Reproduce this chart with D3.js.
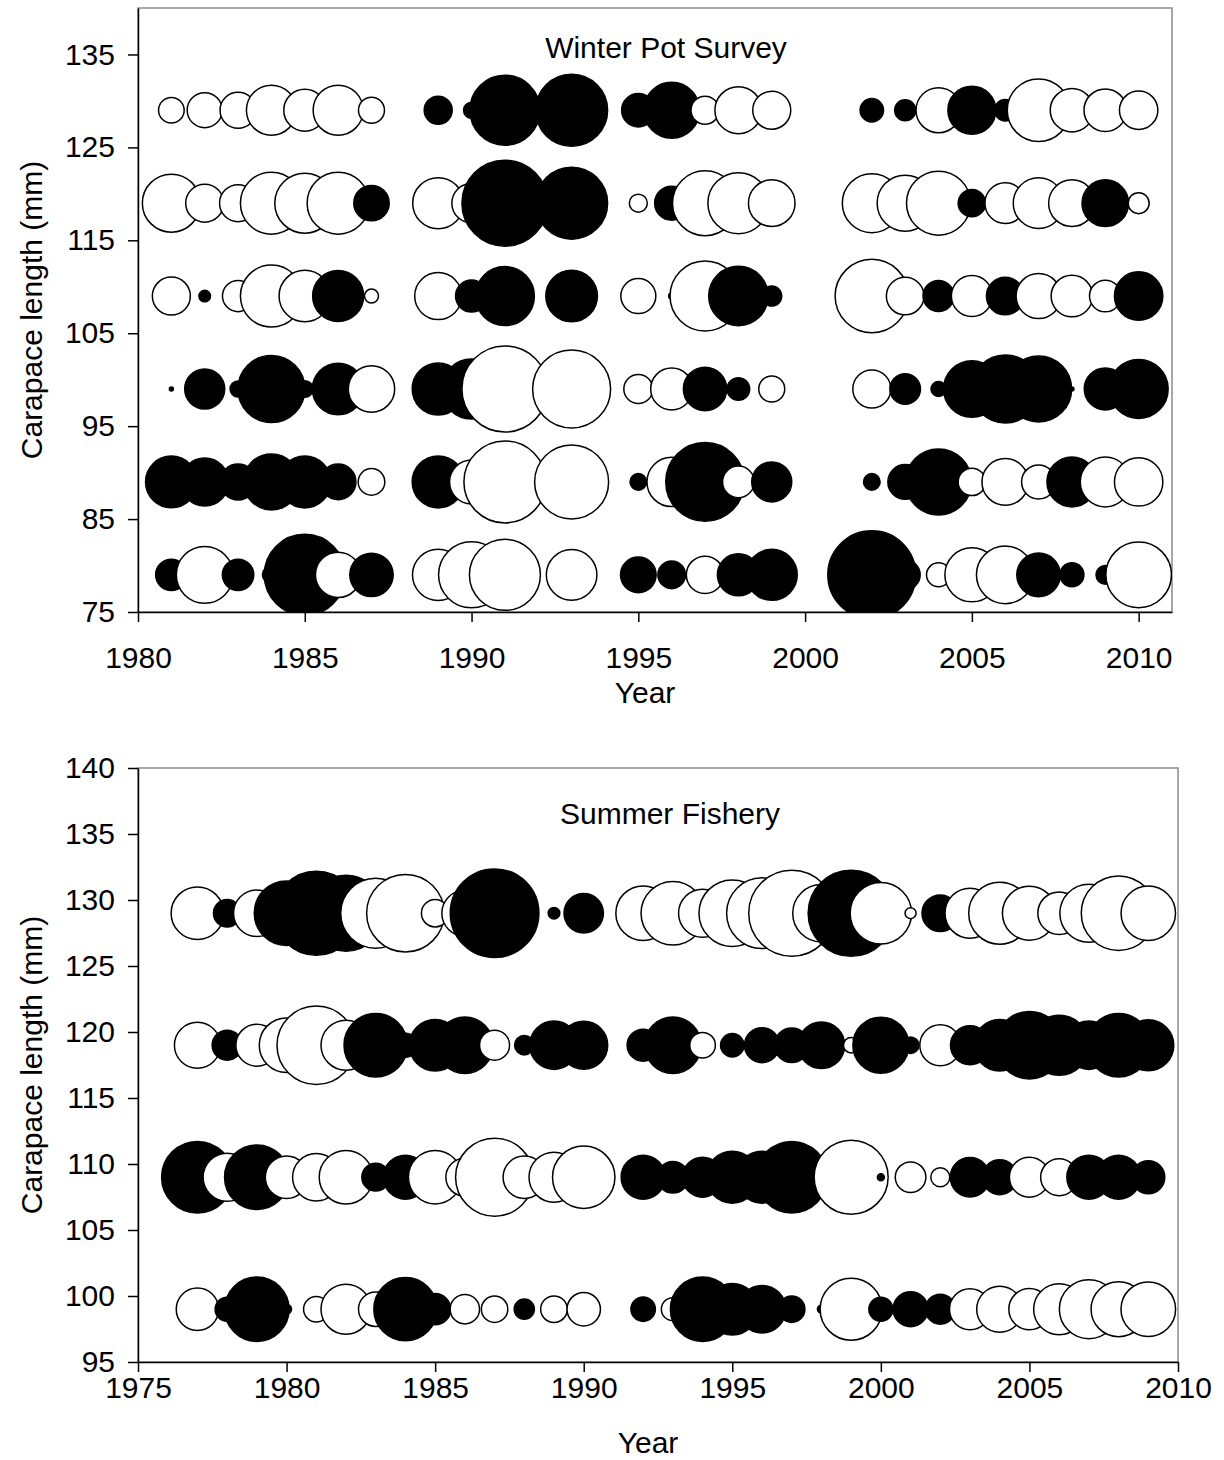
<!DOCTYPE html>
<html lang="en">
<head>
<meta charset="UTF-8">
<script src="https://d3js.org/d3.v7.min.js"></script>
<title>Residual bubbles</title>
<style>
  body { margin: 0; background: #fff; }
  svg text { font-family: "Liberation Sans", Arial, sans-serif; fill: #000; }
</style>
</head>
<body>
<svg width="1224" height="1460" id="chart"></svg>
<script>
// Winter pot survey, residuals by year (positive = black, negative = white)
const winterYears = [1981,1982,1983,1984,1985,1986,1987,1988,1989,1990,1991,1992,1993,1994,1995,
                     1996,1997,1998,1999,2000,2001,2002,2003,2004,2005,2006,2007,2008,2009,2010];
const winterLengths = [129, 119, 109, 99, 89, 79];
const winter129 = [-1.28,-1.75,-1.8,-2.5,-2.1,-2.5,-1.3,null,1.4,0.8,3.5,null,3.6,null,1.67,2.8,-1.4,-2.35,-1.9,null,null,1.17,1.05,-2.25,2.4,1.07,-3.13,-2.17,-2.13,-1.92];
const winter119 = [-2.9,-1.9,-1.85,-3.1,-3.0,-3.1,1.77,null,-2.55,-1.97,4.3,null,3.6,null,-0.9,1.7,-3.25,-3.05,-2.33,null,null,-2.95,-2.8,-3.2,1.37,-2.03,-2.53,-2.33,2.33,-1.05];
const winter109 = [-1.9,0.58,-1.56,-3.1,-2.57,2.55,-0.7,null,-2.35,1.6,2.95,null,2.58,null,-1.75,0.3,-3.5,2.97,1.0,null,null,-3.67,-1.88,1.55,-2.05,1.88,-2.25,-2.08,-1.58,2.42];
const winter99  = [0.2,2.0,0.8,3.35,0.83,2.58,-2.32,null,2.6,3.0,-4.3,null,-3.9,null,-1.45,-2.1,2.17,1.13,-1.3,null,null,-1.9,1.53,0.75,2.83,3.4,3.3,0.2,2.1,2.95];
const winter89  = [2.58,2.4,1.8,2.8,2.6,1.78,-1.33,null,2.6,-2.2,-4.1,null,-3.7,null,0.83,-2.47,3.93,-1.58,2.0,null,null,0.83,1.73,3.3,-1.37,-2.33,-1.7,2.5,-2.5,-2.42];
const winter79  = [1.57,-2.84,1.57,0.9,4.05,-2.27,2.17,null,-2.57,-3.3,-3.55,null,-2.53,null,1.78,1.38,-1.87,2.1,2.55,null,null,4.4,1.5,-1.2,-2.7,-2.88,2.18,1.2,0.93,-3.28];

// Summer fishery
const summerYears = [1977,1978,1979,1980,1981,1982,1983,1984,1985,1986,1987,1988,1989,1990,1991,1992,1993,
                     1994,1995,1996,1997,1998,1999,2000,2001,2002,2003,2004,2005,2006,2007,2008,2009];
const summerLengths = [129, 119, 109, 99];
const summer129 = [-2.63,1.37,-2.33,3.23,4.2,3.8,-3.5,-3.88,-1.37,-2.3,4.43,null,0.58,1.97,null,-2.73,-3.18,-2.4,-3.33,-3.54,-4.3,-2.87,4.3,-3.07,-0.55,1.83,-2.5,-3.1,-2.7,-2.13,-2.9,-3.73,-2.72];
const summer119 = [-2.3,1.5,-2.1,-2.73,-3.93,-2.5,3.17,1.2,2.58,2.83,-1.5,0.97,2.42,2.4,null,1.6,2.83,-1.28,1.17,1.75,1.73,2.33,-0.77,2.8,0.83,-2.05,1.95,2.58,3.37,3.0,2.42,3.17,2.55];
const summer109 = [3.58,-2.4,3.23,-2.13,-2.37,-2.68,1.39,2.2,-2.67,-1.9,-3.9,-2.12,-2.5,-3.12,null,2.2,1.58,2.0,2.6,2.6,3.58,null,-3.7,0.35,-1.53,-0.95,1.97,1.75,-2.0,-1.85,2.2,2.2,1.65];
const summer99  = [-2.12,1.2,3.22,0.5,-1.27,-2.5,-1.72,3.16,1.56,-1.47,-1.32,1.01,-1.33,-1.67,null,1.22,-1.15,3.22,2.58,2.38,1.32,0.4,-3.1,1.2,1.75,1.5,-2.05,-2.3,-2.06,-2.55,-2.95,-2.75,-2.73];

// ticks
const winterXTicks = [1980,1985,1990,1995,2000,2005,2010];
const winterYTicks = [75,85,95,105,115,125,135];
const summerXTicks = [1975,1980,1985,1990,1995,2000,2005,2010];
const summerYTicks = [95,100,105,110,115,120,125,130,135,140];

const svg = d3.select("#chart");
const rScale = d3.scaleLinear().domain([0, 5]).range([0, 50]);

function drawPanel(o){
    const x = d3.scaleLinear().domain(o.xDomain).range([o.left, o.right]);
    const y = d3.scaleLinear().domain(o.yDomain).range([o.bottom, o.top]);
    const g = svg.append("g");

    g.append("clipPath").attr("id", o.id + "-clip")
        .append("rect")
        .attr("x", o.left).attr("y", o.top)
        .attr("width", o.right - o.left).attr("height", o.bottom - o.top);

    // frame
    g.append("rect")
        .attr("x", o.left).attr("y", o.top)
        .attr("width", o.right - o.left).attr("height", o.bottom - o.top)
        .attr("fill", "none").attr("stroke", "#8a8a8a").attr("stroke-width", 1.5);

    // bubbles, one row per length class
    const pts = [];
    o.lengths.forEach((len, ri) => {
        o.rows[ri].forEach((v, i) => {
            if (v === null) return;
            pts.push({year: o.years[i], len: len, v: v});
        });
    });
    g.append("g").attr("clip-path", "url(#" + o.id + "-clip)")
        .selectAll("circle").data(pts).enter().append("circle")
        .attr("cx", d => x(d.year))
        .attr("cy", d => y(d.len))
        .attr("r", d => rScale(Math.abs(d.v)))
        .attr("fill", d => d.v > 0 ? "#000" : "#fff")
        .attr("stroke", "#000")
        .attr("stroke-width", 1.5);

    const xAxis = g.append("g")
        .attr("transform", "translate(0," + o.bottom + ")")
        .call(d3.axisBottom(x).tickValues(o.xTicks).tickFormat(d3.format("d"))
            .tickSize(10).tickSizeOuter(0).tickPadding(o.xPad));
    const yAxis = g.append("g")
        .attr("transform", "translate(" + o.left + ",0)")
        .call(d3.axisLeft(y).tickValues(o.yTicks).tickSize(10).tickSizeOuter(0).tickPadding(13));
    [xAxis, yAxis].forEach(a => {
        a.selectAll("path,line").attr("stroke", "#000").attr("stroke-width", 1.5);
        a.selectAll("text").style("font-size", "30px");
    });

    g.append("text")
        .attr("x", o.titleX).attr("y", o.titleY)
        .attr("text-anchor", "middle")
        .style("font-size", "30px")
        .text(o.title);

    g.append("text")
        .attr("x", (o.left + o.right) / 2 - 10).attr("y", o.yearY)
        .attr("text-anchor", "middle")
        .style("font-size", "30px")
        .text("Year");

    g.append("text")
        .attr("transform", "translate(42," + (o.top + o.bottom) / 2 + ") rotate(-90)")
        .attr("text-anchor", "middle")
        .style("font-size", "30px")
        .text("Carapace length (mm)");
}

drawPanel({
    id: "winter", title: "Winter Pot Survey",
    years: winterYears, lengths: winterLengths,
    rows: [winter129, winter119, winter109, winter99, winter89, winter79],
    xDomain: [1980, 2011], yDomain: [75, 140],
    left: 138, right: 1172, top: 8, bottom: 612,
    xTicks: winterXTicks, yTicks: winterYTicks, xPad: 25,
    titleX: 666, titleY: 58, yearY: 703
});

drawPanel({
    id: "summer", title: "Summer Fishery",
    years: summerYears, lengths: summerLengths,
    rows: [summer129, summer119, summer109, summer99],
    xDomain: [1975, 2010], yDomain: [95, 140],
    left: 138, right: 1178, top: 768, bottom: 1362,
    xTicks: summerXTicks, yTicks: summerYTicks, xPad: 5,
    titleX: 670, titleY: 824, yearY: 1453
});
</script>
</body>
</html>
